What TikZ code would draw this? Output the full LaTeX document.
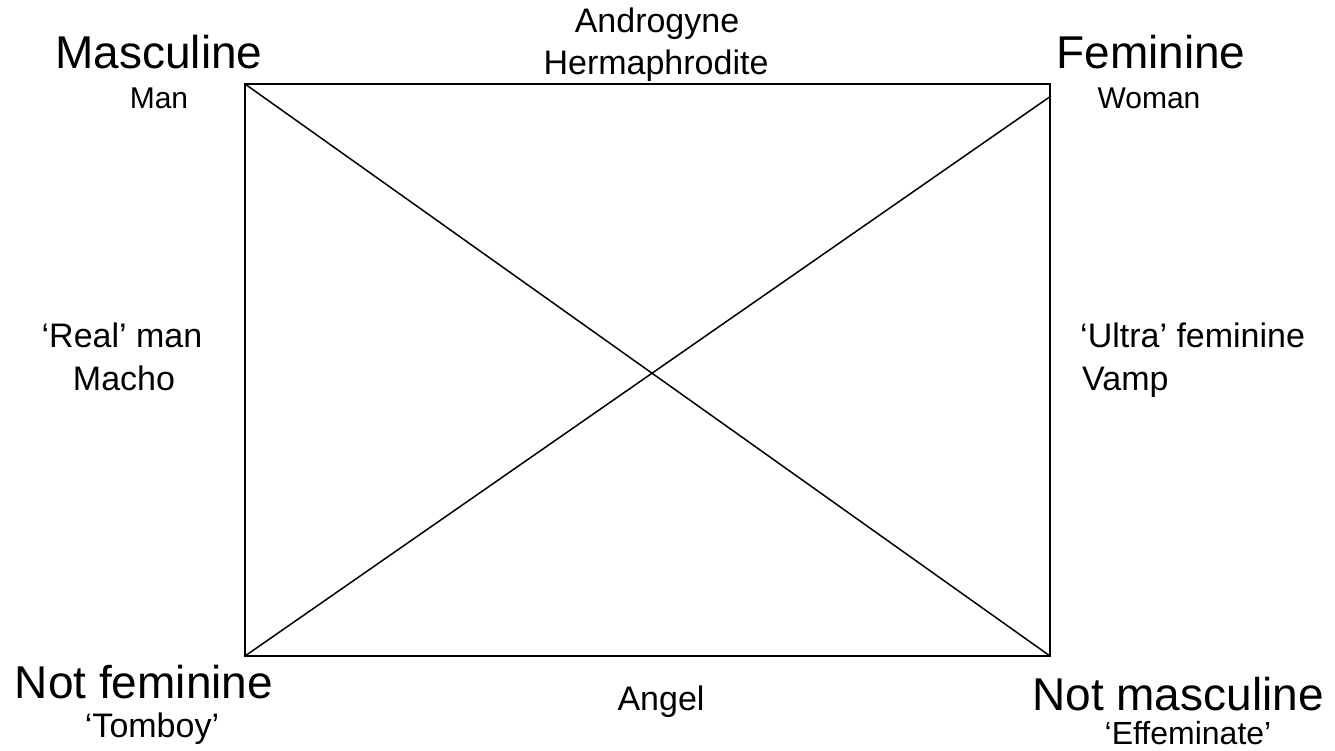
\documentclass[tikz,border=0pt]{standalone}
\usepackage{fontspec}
\setmainfont{Liberation Sans}
\begin{document}
\begin{tikzpicture}[x=1pt,y=-1pt,line cap=butt,line join=miter]
            \tikzset{pole/.style={anchor=base,inner sep=0pt,font=\fontsize{46}{50}\selectfont},
                term/.style={anchor=base,inner sep=0pt,font=\fontsize{34}{38}\selectfont},
                small/.style={anchor=base,inner sep=0pt,font=\fontsize{30}{34}\selectfont},
                edge/.style={line width=1.5pt}
            }
            \useasboundingbox (0,0) rectangle (1335,751);
            \coordinate (tl) at (245,84);
            \coordinate (tr) at (1050,84);
            \coordinate (br) at (1050,656);
            \coordinate (bl) at (245,656);
            \coordinate (trd) at (1051,96);
            \draw[edge] (tl) -- (tr) -- (br) -- (bl) -- cycle;
            \draw[edge] (tl) -- (br) (bl) -- (trd);
            \node[pole] (masc) at (159,69) {Masculine};
            \node[small] (man) at (159,109) {Man};
            \node[pole] (fem) at (1151,69) {Feminine};
            \node[small] (woman) at (1149,109) {Woman};
            \node[term] (andro) at (657,33) {Androgyne};
            \node[term] (herm) at (656,75) {Hermaphrodite};
            \node[term] (real) at (122,347) {‘Real’ man};
            \node[term] (macho) at (124,390) {Macho};
            \node[term,anchor=base west] (ultra) at (1080,347) {‘Ultra’ feminine};
            \node[term,anchor=base west] (vamp) at (1082,390) {Vamp};
            \node[pole] (notfem) at (144,698) {Not feminine};
            \node[term] (tomboy) at (152,737) {‘Tomboy’};
            \node[pole] (notmasc) at (1178,710) {Not masculine};
            \node[term,font=\fontsize{32}{36}\selectfont] (effem) at (1188,744) {‘Effeminate’};
            \node[term] (angel) at (661,710) {Angel};
    \end{tikzpicture}
\end{document}
